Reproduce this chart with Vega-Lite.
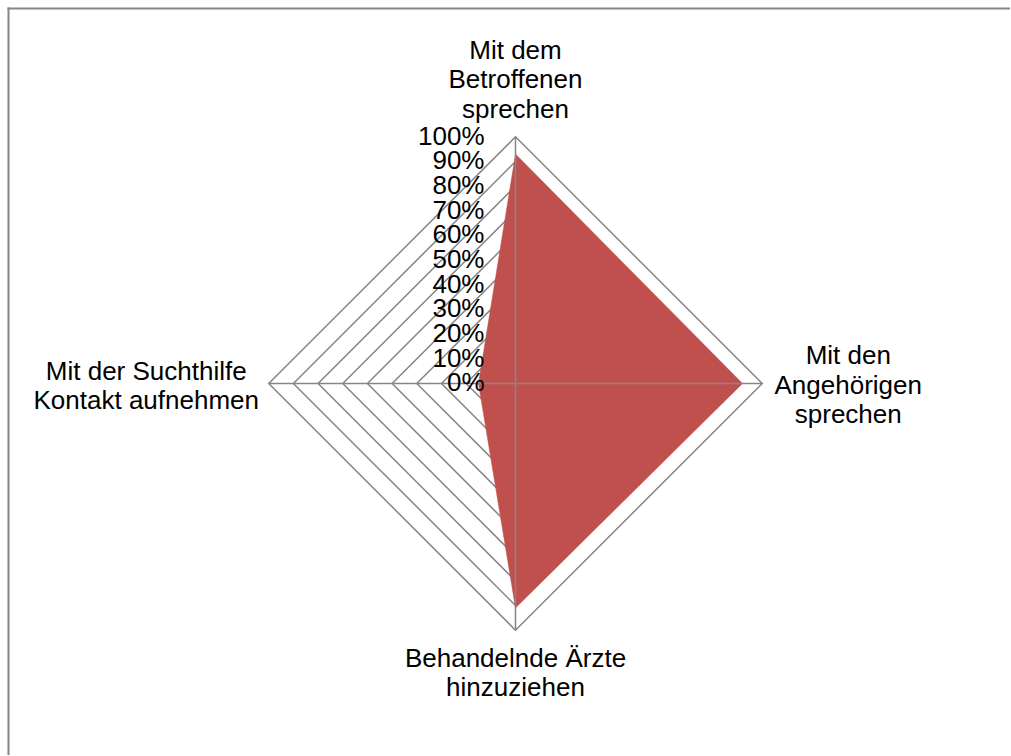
{
  "$schema": "https://vega.github.io/schema/vega-lite/v6.json",
  "autosize": {"type": "fit", "contains": "padding"},
  "width": 1011,
  "height": 756,
  "padding": 0,
  "background": "white",
  "config": {"view": {"stroke": null}, "text": {"font": "Liberation Sans", "fontSize": 26, "color": "black"}},
  "datasets": {
    "cats": [
      {"cat": "Mit dem Betroffenen sprechen", "i": 0, "value": 0.93},
      {"cat": "Mit den Angehörigen sprechen", "i": 1, "value": 0.92},
      {"cat": "Behandelnde Ärzte hinzuziehen", "i": 2, "value": 0.91},
      {"cat": "Mit der Suchthilfe Kontakt aufnehmen", "i": 3, "value": 0.15}
    ],
    "gridaxes": [
      {"i": 0, "levels": [0.1, 0.2, 0.3, 0.4, 0.5, 0.6, 0.7, 0.8, 0.9, 1.0]},
      {"i": 1, "levels": [0.1, 0.2, 0.3, 0.4, 0.5, 0.6, 0.7, 0.8, 0.9, 1.0]},
      {"i": 2, "levels": [0.1, 0.2, 0.3, 0.4, 0.5, 0.6, 0.7, 0.8, 0.9, 1.0]},
      {"i": 3, "levels": [0.1, 0.2, 0.3, 0.4, 0.5, 0.6, 0.7, 0.8, 0.9, 1.0]}
    ],
    "ticks": [
      {"level": 0}, {"level": 0.1}, {"level": 0.2}, {"level": 0.3}, {"level": 0.4}, {"level": 0.5},
      {"level": 0.6}, {"level": 0.7}, {"level": 0.8}, {"level": 0.9}, {"level": 1.0}
    ],
    "labels": [
      {"i": 0, "label": ["Mit dem", "Betroffenen", "sprechen"]},
      {"i": 1, "label": ["Mit den", "Angehörigen", "sprechen"]},
      {"i": 2, "label": ["Behandelnde Ärzte", "hinzuziehen"]},
      {"i": 3, "label": ["Mit der Suchthilfe", "Kontakt aufnehmen"]}
    ],
    "one": [{}]
  },
  "layer": [
    {
      "data": {"name": "gridaxes"},
      "transform": [
        {"flatten": ["levels"], "as": ["level"]},
        {"calculate": "datum.level * sin(datum.i * PI / 2)", "as": "x"},
        {"calculate": "datum.level * cos(datum.i * PI / 2)", "as": "y"}
      ],
      "mark": {"type": "line", "interpolate": "linear-closed", "stroke": "#868686", "strokeWidth": 1.5},
      "encoding": {
        "x": {"field": "x", "type": "quantitative", "scale": {"domain": [-2.0891, 2.004], "nice": false, "zero": false}, "axis": null},
        "y": {"field": "y", "type": "quantitative", "scale": {"domain": [-1.5061, 1.5547], "nice": false, "zero": false}, "axis": null},
        "detail": {"field": "level", "type": "nominal"},
        "order": {"field": "i", "type": "quantitative"}
      }
    },
    {
      "data": {"name": "cats"},
      "transform": [
        {"calculate": "datum.value * sin(datum.i * PI / 2)", "as": "x"},
        {"calculate": "datum.value * cos(datum.i * PI / 2)", "as": "y"}
      ],
      "mark": {"type": "line", "interpolate": "linear-closed", "fill": "#C0504D", "stroke": "#C0504D", "strokeWidth": 0.5},
      "encoding": {
        "x": {"field": "x", "type": "quantitative", "scale": {"domain": [-2.0891, 2.004], "nice": false, "zero": false}, "axis": null},
        "y": {"field": "y", "type": "quantitative", "scale": {"domain": [-1.5061, 1.5547], "nice": false, "zero": false}, "axis": null},
        "order": {"field": "i", "type": "quantitative"}
      }
    },
    {
      "data": {"name": "one"},
      "mark": {"type": "rule", "stroke": "#868686", "strokeWidth": 1.5},
      "encoding": {"x": {"datum": 0}, "y": {"datum": -1}, "y2": {"datum": 1}}
    },
    {
      "data": {"name": "one"},
      "mark": {"type": "rule", "stroke": "#868686", "strokeWidth": 1.5},
      "encoding": {"y": {"datum": 0}, "x": {"datum": -1}, "x2": {"datum": 1}}
    },
    {
      "data": {"name": "one"},
      "mark": {"type": "rule", "stroke": "#868686", "strokeWidth": 2},
      "encoding": {"x": {"datum": -2.0547}, "y": {"datum": -1.5061}, "y2": {"datum": 1.5242}}
    },
    {
      "data": {"name": "one"},
      "mark": {"type": "rule", "stroke": "#868686", "strokeWidth": 2},
      "encoding": {"y": {"datum": 1.5202}, "x": {"datum": -2.0587}, "x2": {"datum": 2.004}}
    },
    {
      "data": {"name": "ticks"},
      "mark": {"type": "text", "align": "right", "baseline": "middle", "dx": -31},
      "encoding": {
        "x": {"datum": 0},
        "y": {"field": "level", "type": "quantitative"},
        "text": {"field": "level", "type": "quantitative", "format": ".0%"}
      }
    },
    {
      "data": {"name": "labels"},
      "transform": [{"filter": "datum.i == 0"}],
      "mark": {"type": "text", "align": "center", "baseline": "middle", "dy": -86, "lineHeight": 29.5},
      "encoding": {"x": {"datum": 0}, "y": {"datum": 1}, "text": {"field": "label"}}
    },
    {
      "data": {"name": "labels"},
      "transform": [{"filter": "datum.i == 1"}],
      "mark": {"type": "text", "align": "center", "baseline": "middle", "dx": 86, "dy": -27, "lineHeight": 29.5},
      "encoding": {"x": {"datum": 1}, "y": {"datum": 0}, "text": {"field": "label"}}
    },
    {
      "data": {"name": "labels"},
      "transform": [{"filter": "datum.i == 2"}],
      "mark": {"type": "text", "align": "center", "baseline": "middle", "dy": 29, "lineHeight": 28.5},
      "encoding": {"x": {"datum": 0}, "y": {"datum": -1}, "text": {"field": "label"}}
    },
    {
      "data": {"name": "labels"},
      "transform": [{"filter": "datum.i == 3"}],
      "mark": {"type": "text", "align": "center", "baseline": "middle", "dx": -122.5, "dy": -11, "lineHeight": 28.5},
      "encoding": {"x": {"datum": -1}, "y": {"datum": 0}, "text": {"field": "label"}}
    }
  ]
}
